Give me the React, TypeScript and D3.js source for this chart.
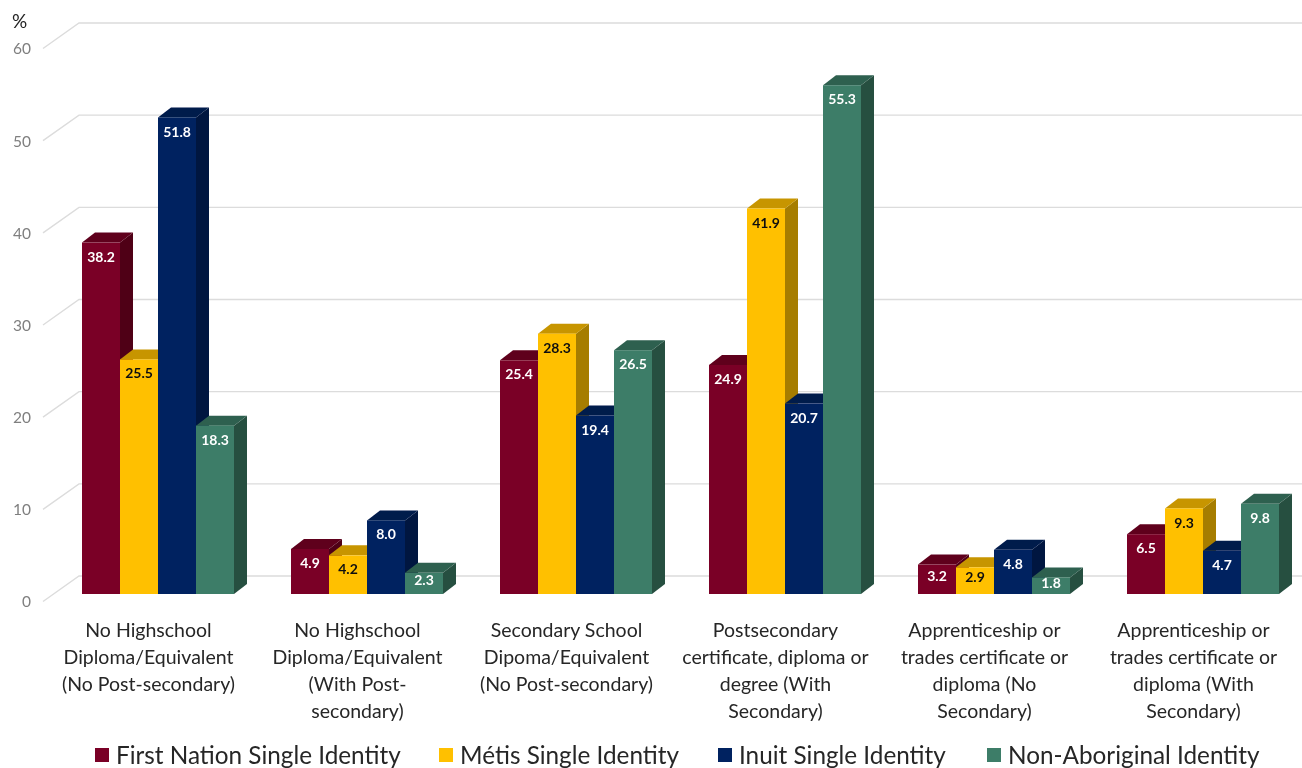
import React from "react";
import * as d3 from "d3";

const categories = [
  ["No Highschool", "Diploma/Equivalent", "(No Post-secondary)"],
  ["No Highschool", "Diploma/Equivalent", "(With Post-", "secondary)"],
  ["Secondary School", "Dipoma/Equivalent", "(No Post-secondary)"],
  ["Postsecondary", "certificate, diploma or", "degree (With", "Secondary)"],
  ["Apprenticeship or", "trades certificate or", "diploma (No", "Secondary)"],
  ["Apprenticeship or", "trades certificate or", "diploma (With", "Secondary)"],
];
const firstNation = [38.2, 4.9, 25.4, 24.9, 3.2, 6.5];
const metis = [25.5, 4.2, 28.3, 41.9, 2.9, 9.3];
const inuit = [51.8, 8.0, 19.4, 20.7, 4.8, 4.7];
const nonAboriginal = [18.3, 2.3, 26.5, 55.3, 1.8, 9.8];
const seriesNames = ["First Nation Single Identity", "Métis Single Identity", "Inuit Single Identity", "Non-Aboriginal Identity"];
const seriesValues = [firstNation, metis, inuit, nonAboriginal];
const ticks = [0, 10, 20, 30, 40, 50, 60];

const frontColors = ["#7a0026", "#ffc000", "#002060", "#3d7d67"];
const topColors = ["#5f001e", "#c79500", "#001a4c", "#2f604f"];
const sideColors = ["#4f0019", "#a67d00", "#001540", "#274f41"];
const labelColors = ["#fff", "#111", "#fff", "#fff"];
const legendX = [95, 439, 718, 987];

const FONT = "Lato, 'Open Sans', sans-serif";
const DX = 13;
const DY = 10;
const W = 1302;
const H = 768;

export default function App() {
  const y = d3.scaleLinear().domain([0, 60]).range([594, 42]);
  const group = d3.scaleBand<number>().domain(d3.range(6)).range([41, 1295]).paddingInner(0).paddingOuter(0);
  const inner = d3.scaleBand<number>().domain(d3.range(4)).range([41, 193]);
  const gridBack = d3.scaleLinear().domain([0, 60]).range([576, 23]);
  const tickFront = d3.scaleLinear().domain([0, 60]).range([601.5, 48.5]);

  return (
    <svg width={W} height={H} style={{ position: "fixed", left: 0, top: 0, background: "#fff" }} fontFamily={FONT}>
      <defs>
        <filter id="soft" x="0" y="0" width="100%" height="100%">
          <feGaussianBlur stdDeviation={0.45} />
        </filter>
      </defs>
      <g filter="url(#soft)">
        {ticks.map((t) => (
          <g key={t}>
            <polyline
              points={`43,${tickFront(t)} 79,${gridBack(t)} ${W},${gridBack(t)}`}
              fill="none"
              stroke="#dcdcdc"
              strokeWidth={1.4}
            />
            <text x={31} y={tickFront(t)} dy={2} textAnchor="end" fontSize={15.5} fill="#7f7f7f" dominantBaseline="middle">
              {t}
            </text>
          </g>
        ))}
        <text x={12} y={28} fontSize={19} fill="#222">%</text>

        {categories.map((_, c) => {
          const gx = group(c)!;
          return (
            <g key={c}>
              {seriesValues.map((vals, s) => {
                const v = vals[c];
                const x0 = gx + inner(s)!;
                const x1 = x0 + inner.bandwidth();
                const yt = y(v);
                const yb = y(0);
                const offset = Math.min(15.5, (yb - yt) * 0.42);
                return (
                  <g key={s}>
                    <path d={`M${x1},${yt}L${x1 + DX},${yt - DY}L${x1 + DX},${yb - DY}L${x1},${yb}Z`} fill={sideColors[s]} />
                    <path d={`M${x0},${yt}L${x0 + DX},${yt - DY}L${x1 + DX},${yt - DY}L${x1},${yt}Z`} fill={topColors[s]} />
                    <rect x={x0} y={yt} width={x1 - x0} height={yb - yt} fill={frontColors[s]} />
                    <text
                      x={x0 + 19}
                      y={yt + offset}
                      textAnchor="middle"
                      dominantBaseline="middle"
                      fontSize={14}
                      fontWeight={700}
                      fill={labelColors[s]}
                    >
                      {v.toFixed(1)}
                    </text>
                  </g>
                );
              })}
            </g>
          );
        })}

        {categories.map((lines, c) => (
          <text key={c} textAnchor="middle" fontSize={19.5} fill="#262626">
            {lines.map((l, i) => (
              <tspan key={i} x={group(c)! + 107.5} y={637 + i * 27}>
                {l}
              </tspan>
            ))}
          </text>
        ))}

        {seriesNames.map((n, s) => (
          <g key={n}>
            <rect x={legendX[s]} y={748} width={14} height={14} fill={frontColors[s]} />
            <text x={legendX[s] + 21} y={764} fontSize={24.3} fill="#262626">
              {n}
            </text>
          </g>
        ))}
      </g>
    </svg>
  );
}
